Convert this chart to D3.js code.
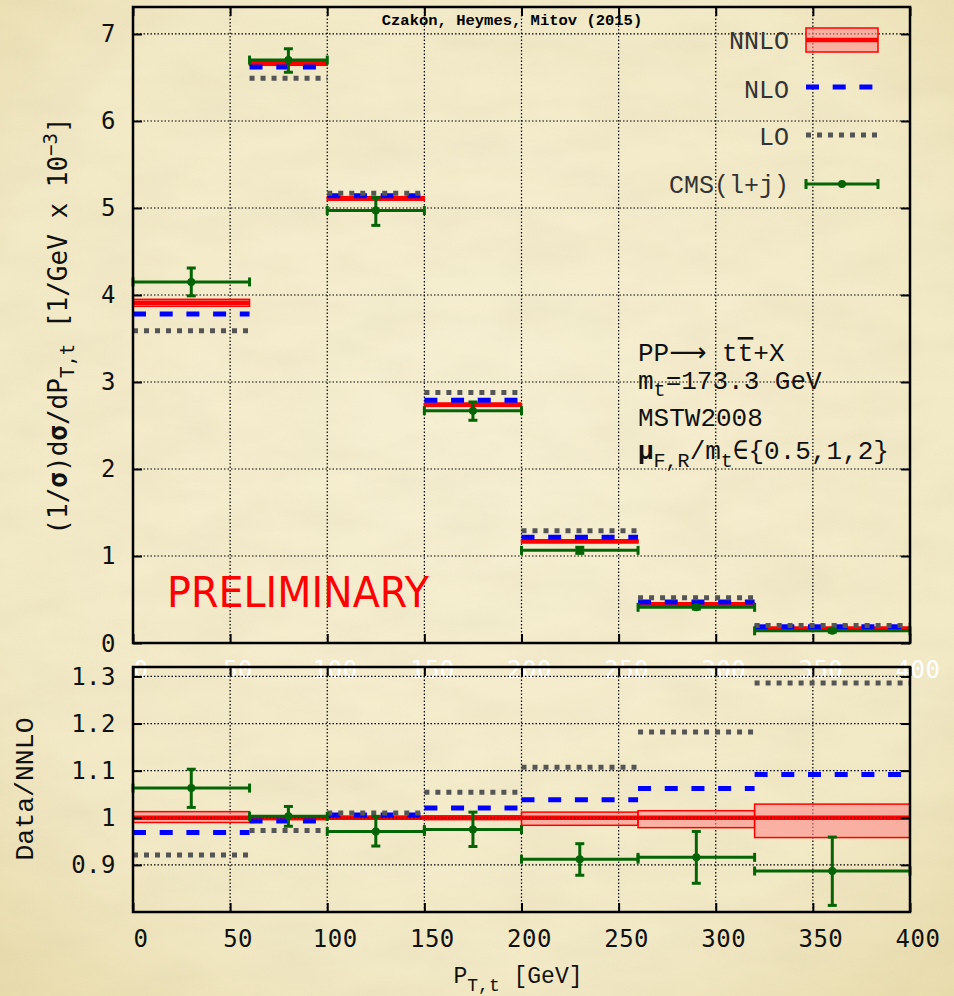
<!DOCTYPE html>
<html>
<head>
<meta charset="utf-8">
<script src="https://cdn.jsdelivr.net/npm/d3@7"></script>
<style>
  body { margin: 0; background: #f2e9c5; }
  svg { display: block; }
  .mono { font-family: "Liberation Mono", "DejaVu Sans Mono", monospace; }
  .tick-lbl { font-family: "DejaVu Sans Mono", monospace; font-size: 24px; fill: #111; letter-spacing: 0.5px; }
</style>
</head>
<body>
<div id="chart"></div>
<script>
// bins (GeV)
const binLo = [0, 60, 100, 150, 200, 260, 320];
const binHi = [60, 100, 150, 200, 260, 320, 400];
const dataX = [30, 80, 125, 175, 230, 290, 360];

// top panel: (1/sigma) dsigma/dPT  [1/GeV x 10^-3]
const nnlo   = [3.91, 6.67, 5.11, 2.74, 1.170, 0.445, 0.168];
const nnloLo = [3.87, 6.64, 5.09, 2.72, 1.152, 0.436, 0.161];
const nnloHi = [3.95, 6.70, 5.13, 2.75, 1.184, 0.452, 0.173];
const nlo    = [3.78, 6.62, 5.14, 2.79, 1.215, 0.470, 0.186];
const lo     = [3.59, 6.49, 5.17, 2.88, 1.290, 0.520, 0.200];
const cms    = [4.15, 6.70, 4.97, 2.67, 1.065, 0.410, 0.140];
const cmsLo  = [3.99, 6.56, 4.80, 2.56, 1.030, 0.390, 0.125];
const cmsHi  = [4.31, 6.83, 5.12, 2.77, 1.100, 0.430, 0.155];

// bottom panel: ratio to NNLO
const rNnloLo = [0.990, 0.996, 0.997, 0.996, 0.984, 0.979, 0.958];
const rNnloHi = [1.013, 1.004, 1.003, 1.004, 1.012, 1.015, 1.029];
const rNlo    = [0.969, 0.993, 1.006, 1.021, 1.038, 1.062, 1.092];
const rLo     = [0.921, 0.973, 1.010, 1.054, 1.107, 1.182, 1.286];
const rCms    = [1.063, 1.003, 0.971, 0.975, 0.912, 0.916, 0.887];
const rCmsLo  = [1.022, 0.982, 0.940, 0.939, 0.878, 0.861, 0.814];
const rCmsHi  = [1.103, 1.024, 1.003, 1.012, 0.945, 0.971, 0.959];

const xTicks = [0, 50, 100, 150, 200, 250, 300, 350, 400];
const yTopTicks = [0, 1, 2, 3, 4, 5, 6, 7];
const yBotTicks = [0.9, 1, 1.1, 1.2, 1.3];
const legendNames = ["NNLO", "NLO", "LO", "CMS(l+j)"];

const W = 954, H = 996;
const colRed = "#ff0000", colBlue = "#0000ff", colGrey = "#555555", colGreen = "#056405";

let svg = d3.select("#chart").append("svg")
  .attr("width", W).attr("height", H);

// parchment background
let defs = svg.append("defs");
let rg = defs.append("radialGradient").attr("id", "vign")
  .attr("cx", "50%").attr("cy", "45%").attr("r", "75%");
rg.append("stop").attr("offset", "0%").attr("stop-color", "#f6efd2");
rg.append("stop").attr("offset", "70%").attr("stop-color", "#f2e9c6");
rg.append("stop").attr("offset", "100%").attr("stop-color", "#e8dbab");
let flt = defs.append("filter").attr("id", "grain");
flt.append("feTurbulence").attr("type", "fractalNoise")
  .attr("baseFrequency", "0.012 0.03").attr("numOctaves", 4).attr("seed", 7);
flt.append("feColorMatrix").attr("type", "matrix")
  .attr("values", "0 0 0 0 0.55  0 0 0 0 0.48  0 0 0 0 0.30  0 0 0 0.55 -0.18");
svg.append("rect").attr("width", W).attr("height", H).attr("fill", "url(#vign)");
svg.append("rect").attr("width", W).attr("height", H).attr("filter", "url(#grain)").attr("opacity", 0.35);

// scales
let x = d3.scaleLinear().domain([0, 400]).range([133, 910]);
let yTop = d3.scaleLinear().domain([0, 7.31]).range([643, 7]);
let yBot = d3.scaleLinear().domain([0.8, 1.32]).range([912, 667]);

function drawGrid(g, y, yGrid) {
  let [y0, y1] = y.range();
  g.selectAll(".vgrid").data(xTicks.slice(1, -1)).enter().append("line")
    .attr("x1", d => x(d)).attr("x2", d => x(d))
    .attr("y1", y0).attr("y2", y1)
    .attr("stroke", "#000").attr("stroke-width", 1.2).attr("stroke-dasharray", "1.5,2");
  g.selectAll(".hgrid").data(yGrid).enter().append("line")
    .attr("x1", x(0)).attr("x2", x(400))
    .attr("y1", d => y(d)).attr("y2", d => y(d))
    .attr("stroke", "#000").attr("stroke-width", 1.2).attr("stroke-dasharray", "1.5,2");
}

function drawFrame(g, y, yTicks, fmt, xLblColor, xLblY) {
  let [y0, y1] = y.range();
  // inward ticks on all four sides
  g.append("g").attr("transform", `translate(0,${y0})`)
    .call(d3.axisBottom(x).tickValues(xTicks).tickSize(-9).tickFormat(""))
    .call(a => a.select(".domain").remove());
  g.append("g").attr("transform", `translate(0,${y1})`)
    .call(d3.axisTop(x).tickValues(xTicks).tickSize(-9).tickFormat(""))
    .call(a => a.select(".domain").remove());
  g.append("g").attr("transform", `translate(${x(0)},0)`)
    .call(d3.axisLeft(y).tickValues(yTicks).tickSize(-9).tickFormat(""))
    .call(a => a.select(".domain").remove());
  g.append("g").attr("transform", `translate(${x(400)},0)`)
    .call(d3.axisRight(y).tickValues(yTicks).tickSize(-9).tickFormat(""))
    .call(a => a.select(".domain").remove());
  g.selectAll(".tick line").attr("stroke", "#000").attr("stroke-width", 2);

  g.append("rect")
    .attr("x", x(0)).attr("y", y1)
    .attr("width", x(400) - x(0)).attr("height", y0 - y1)
    .attr("fill", "none").attr("stroke", "#000").attr("stroke-width", 2.5);

  // y tick labels
  g.selectAll(".ylbl").data(yTicks).enter().append("text")
    .attr("class", "tick-lbl")
    .attr("x", 116).attr("y", d => y(d) + 8.5)
    .attr("text-anchor", "end")
    .text(fmt);

  // x tick labels
  g.selectAll(".xlbl").data(xTicks).enter().append("text")
    .attr("class", "tick-lbl")
    .attr("x", d => x(d) + 8).attr("y", xLblY)
    .attr("text-anchor", "middle")
    .style("fill", xLblColor)
    .text(d => d);
}

function drawSteps(g, vals, color, width, dash) {
  g.selectAll(null).data(vals).enter().append("line")
    .attr("x1", (d, i) => x(binLo[i])).attr("x2", (d, i) => x(binHi[i]))
    .attr("y1", d => d).attr("y2", d => d)
    .attr("stroke", color).attr("stroke-width", width)
    .attr("stroke-dasharray", dash);
}

function drawBand(g, y, low, high) {
  g.selectAll(null).data(low).enter().append("rect")
    .attr("x", (d, i) => x(binLo[i]))
    .attr("y", (d, i) => y(high[i]))
    .attr("width", (d, i) => x(binHi[i]) - x(binLo[i]))
    .attr("height", (d, i) => y(low[i]) - y(high[i]))
    .attr("fill", "#ff8c8c").attr("fill-opacity", 0.6)
    .attr("stroke", colRed).attr("stroke-width", 1.5);
}

function drawData(g, y, vals, low, high) {
  let grp = g.append("g").attr("stroke", colGreen).attr("fill", colGreen);
  vals.forEach((v, i) => {
    let yy = y(v), xl = x(binLo[i]), xr = x(binHi[i]), xc = x(dataX[i]);
    grp.append("line").attr("x1", xl).attr("x2", xr).attr("y1", yy).attr("y2", yy).attr("stroke-width", 3);
    grp.append("line").attr("x1", xl).attr("x2", xl).attr("y1", yy - 4.5).attr("y2", yy + 4.5).attr("stroke-width", 3);
    grp.append("line").attr("x1", xr).attr("x2", xr).attr("y1", yy - 4.5).attr("y2", yy + 4.5).attr("stroke-width", 3);
    grp.append("line").attr("x1", xc).attr("x2", xc).attr("y1", y(low[i])).attr("y2", y(high[i])).attr("stroke-width", 3);
    grp.append("line").attr("x1", xc - 4.5).attr("x2", xc + 4.5).attr("y1", y(low[i])).attr("y2", y(low[i])).attr("stroke-width", 3);
    grp.append("line").attr("x1", xc - 4.5).attr("x2", xc + 4.5).attr("y1", y(high[i])).attr("y2", y(high[i])).attr("stroke-width", 3);
    grp.append("circle").attr("cx", xc).attr("cy", yy).attr("r", 4).attr("stroke", "none");
  });
}

// ---------- top panel ----------
let topPanel = svg.append("g");
drawGrid(topPanel, yTop, yTopTicks.slice(1));
drawBand(topPanel, yTop, nnloLo, nnloHi);
drawSteps(topPanel, nnlo.map(d => yTop(d)), colRed, 4.5, null);
drawSteps(topPanel, nlo.map(d => yTop(d)), colBlue, 5, "13,13.7");
drawSteps(topPanel, lo.map(d => yTop(d)), colGrey, 5, "5,6");
drawData(topPanel, yTop, cms, cmsLo, cmsHi);
drawFrame(topPanel, yTop, yTopTicks, d => d, "#ffffff", 678);

// ---------- bottom panel ----------
let botPanel = svg.append("g");
drawGrid(botPanel, yBot, yBotTicks);
drawBand(botPanel, yBot, rNnloLo, rNnloHi);
drawSteps(botPanel, nnlo.map(() => yBot(1)), colRed, 4.5, null);
botPanel.append("line").attr("x1", x(0)).attr("x2", x(400))
  .attr("y1", yBot(1)).attr("y2", yBot(1))
  .attr("stroke", "#000").attr("stroke-width", 1.2).attr("stroke-dasharray", "1.5,2");
drawSteps(botPanel, rNlo.map(d => yBot(d)), colBlue, 5, "13,13.7");
drawSteps(botPanel, rLo.map(d => yBot(d)), colGrey, 5, "5,6");
drawData(botPanel, yBot, rCms, rCmsLo, rCmsHi);
drawFrame(botPanel, yBot, yBotTicks, d => d === 1 ? "1" : d3.format(".1f")(d), "#111", 947);

// title
svg.append("text").attr("class", "mono")
  .attr("x", 512).attr("y", 25).attr("text-anchor", "middle")
  .style("font-size", "15.5px").style("font-weight", "bold")
  .text("Czakon, Heymes, Mitov (2015)");

// legend
let legY = [40, 89, 136, 184];
let leg = svg.append("g");
leg.selectAll("text").data(legendNames).enter().append("text")
  .attr("class", "mono")
  .attr("x", 789).attr("y", (d, i) => legY[i] + 9)
  .attr("text-anchor", "end")
  .style("font-size", "25px").style("fill", "#333")
  .text(d => d);
leg.append("rect").attr("x", 806).attr("y", 28).attr("width", 72).attr("height", 24)
  .attr("fill", "#ff8c8c").attr("fill-opacity", 0.6).attr("stroke", colRed).attr("stroke-width", 1.5);
leg.append("line").attr("x1", 806).attr("x2", 878).attr("y1", legY[0]).attr("y2", legY[0])
  .attr("stroke", colRed).attr("stroke-width", 4.5);
leg.append("line").attr("x1", 806).attr("x2", 878).attr("y1", legY[1] - 2).attr("y2", legY[1] - 2)
  .attr("stroke", colBlue).attr("stroke-width", 5).attr("stroke-dasharray", "13,13.7");
leg.append("line").attr("x1", 806).attr("x2", 878).attr("y1", legY[2] - 1).attr("y2", legY[2] - 1)
  .attr("stroke", colGrey).attr("stroke-width", 5).attr("stroke-dasharray", "5,6");
let lc = leg.append("g").attr("stroke", colGreen).attr("fill", colGreen).attr("stroke-width", 3);
lc.append("line").attr("x1", 806).attr("x2", 878).attr("y1", legY[3]).attr("y2", legY[3]);
lc.append("line").attr("x1", 806).attr("x2", 806).attr("y1", legY[3] - 5).attr("y2", legY[3] + 5);
lc.append("line").attr("x1", 878).attr("x2", 878).attr("y1", legY[3] - 5).attr("y2", legY[3] + 5);
lc.append("circle").attr("cx", 842).attr("cy", legY[3]).attr("r", 4).attr("stroke", "none");

// process annotation
let ann = svg.append("g").attr("class", "mono").style("font-size", "26px").style("fill", "#111");
let a1 = ann.append("text").attr("x", 638).attr("y", 361);
a1.append("tspan").text("PP");
a1.append("tspan").style("font-family", "'DejaVu Sans', sans-serif").text("\u27f6");
a1.append("tspan").text(" t");
a1.append("tspan").style("text-decoration", "overline").text("t");
a1.append("tspan").text("+X");
let a2 = ann.append("text").attr("x", 638).attr("y", 389);
a2.append("tspan").text("m");
a2.append("tspan").attr("dy", 7).style("font-size", "20px").text("t");
a2.append("tspan").attr("dy", -7).text("=173.3 GeV");
ann.append("text").attr("x", 638).attr("y", 426).text("MSTW2008");
let a4 = ann.append("text").attr("x", 638).attr("y", 459);
a4.append("tspan").style("font-weight", "bold").text("\u03bc");
a4.append("tspan").attr("dy", 8).style("font-size", "20px").text("F,R");
a4.append("tspan").attr("dy", -8).text("/m");
a4.append("tspan").attr("dy", 8).style("font-size", "20px").text("t");
a4.append("tspan").attr("dy", -8).text("\u2208{0.5,1,2}");

// PRELIMINARY stamp
svg.append("text").attr("x", 167).attr("y", 607)
  .attr("textLength", 262).attr("lengthAdjust", "spacingAndGlyphs")
  .style("font-family", "'DejaVu Sans', sans-serif").style("font-size", "42px")
  .style("fill", colRed)
  .text("PRELIMINARY");

// y axis label, top panel
let yl = svg.append("text")
  .attr("transform", "translate(67,326) rotate(-90)")
  .attr("text-anchor", "middle")
  .style("font-family", "'DejaVu Sans Mono', monospace").style("font-size", "26px").style("fill", "#111");
yl.append("tspan").text("(1/");
yl.append("tspan").style("font-weight", "bold").text("\u03c3");
yl.append("tspan").text(")d");
yl.append("tspan").style("font-weight", "bold").text("\u03c3");
yl.append("tspan").text("/dP");
yl.append("tspan").attr("dy", 7).style("font-size", "19px").text("T,t");
yl.append("tspan").attr("dy", -7).text("  [1/GeV x 10");
yl.append("tspan").attr("dy", -10).style("font-size", "19px").text("\u22123");
yl.append("tspan").attr("dy", 10).text("]");

// y axis label, bottom panel
svg.append("text")
  .attr("class", "mono")
  .attr("transform", "translate(33,789) rotate(-90)")
  .attr("text-anchor", "middle")
  .style("font-size", "26.5px").style("fill", "#111")
  .text("Data/NNLO");

// x axis label
let xl = svg.append("text").attr("class", "mono")
  .attr("x", 518).attr("y", 983).attr("text-anchor", "middle")
  .style("font-size", "23px").style("fill", "#111");
xl.append("tspan").text("P");
xl.append("tspan").attr("dy", 8).style("font-size", "18px").text("T,t");
xl.append("tspan").attr("dy", -8).text("  [GeV]");
</script>
</body>
</html>
